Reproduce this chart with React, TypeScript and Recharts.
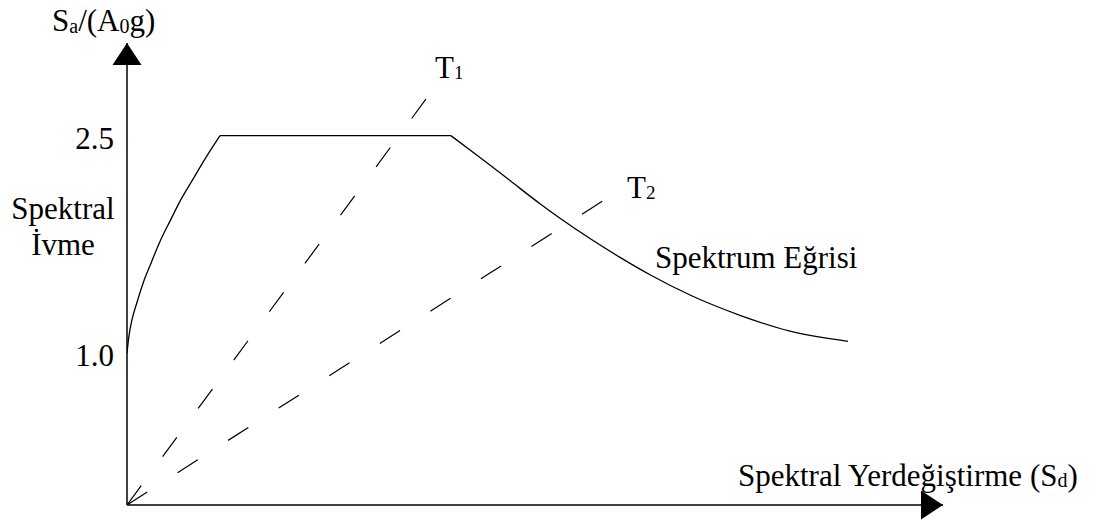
import React from 'react';
import { LineChart, Line, XAxis, YAxis, ReferenceDot } from 'recharts';

const W = 1113;
const H = 520;
const FONT = '"Liberation Serif", "Times New Roman", serif';

// Design spectrum in Sa–Sd form: rising branch, constant plateau, decaying branch
const risingSd = [0, 0.02, 0.05, 0.1, 0.16, 0.24, 0.33, 0.43, 0.54, 0.66, 0.79, 0.93];
const risingSa = [1.0, 1.12, 1.23, 1.35, 1.48, 1.62, 1.77, 1.91, 2.06, 2.2, 2.35, 2.5];
const plateauSd = [0.93, 3.24];
const plateauSa = [2.5, 2.5];
const decaySd = [3.24, 3.53, 3.83, 4.13, 4.33, 4.63, 4.93, 5.23, 5.63, 6.13, 6.63, 7.21];
const decaySa = [2.5, 2.35, 2.19, 2.03, 1.93, 1.79, 1.66, 1.54, 1.4, 1.26, 1.15, 1.08];

// Constant-period radial lines T1, T2 (from the origin)
const periodEndSd = [3.04, 4.94];
const periodEndSa = [2.8, 2.13];

const yTicks = [1.0, 2.5];

const X_MIN = 0;
const X_MAX = 8.16;
const Y_MIN = -0.05;
const Y_MAX = 3.14;

const toPoints = (xs: number[], ys: number[]) => xs.map((x, i) => ({ x, y: ys[i] }));

const rising = toPoints(risingSd, risingSa);
const plateau = toPoints(plateauSd, plateauSa);
const decay = toPoints(decaySd, decaySa);
const periodLines = periodEndSd.map((sd, i) => [
  { x: X_MIN, y: Y_MIN },
  { x: sd, y: periodEndSa[i] },
]);

const UpArrow = (props: any) => {
  const { cx, cy } = props;
  return <polygon points={`${cx},${cy} ${cx - 14.5},${cy + 22} ${cx + 14.5},${cy + 22}`} fill="#000" />;
};

const RightArrow = (props: any) => {
  const { cx, cy } = props;
  return <polygon points={`${cx},${cy} ${cx - 22},${cy - 14.5} ${cx - 22},${cy + 14.5}`} fill="#000" />;
};

const YTick = (props: any) => {
  const { x, y, payload } = props;
  return (
    <text x={x} y={y + 3} textAnchor="end" dominantBaseline="central" fontFamily={FONT} fontSize={31} fill="#000">
      {Number(payload.value).toFixed(1)}
    </text>
  );
};

export default function App() {
  const lineProps = {
    dataKey: 'y',
    stroke: '#000',
    dot: false,
    activeDot: false,
    isAnimationActive: false,
  } as const;

  return (
    <div style={{ position: 'absolute', left: 0, top: 0, width: W, height: H, background: '#fff' }}>
      <LineChart width={W} height={H} margin={{ top: 43, right: W - 943, bottom: 0, left: 0 }}>
        <XAxis
          type="number"
          dataKey="x"
          domain={[X_MIN, X_MAX]}
          allowDataOverflow
          height={15}
          tick={false}
          tickLine={false}
          axisLine={{ stroke: '#000', strokeWidth: 1.5 }}
        />
        <YAxis
          type="number"
          dataKey="y"
          domain={[Y_MIN, Y_MAX]}
          allowDataOverflow
          width={127}
          ticks={yTicks}
          tickSize={0}
          tickMargin={13}
          tickLine={false}
          tick={<YTick />}
          axisLine={{ stroke: '#000', strokeWidth: 1.5 }}
        />
        <Line {...lineProps} data={rising} type="monotone" strokeWidth={1.3} />
        <Line {...lineProps} data={plateau} type="linear" strokeWidth={1.3} />
        <Line {...lineProps} data={decay} type="monotone" strokeWidth={1.3} />
        {periodLines.map((d, i) => (
          <Line key={i} {...lineProps} data={d} type="linear" strokeWidth={1.2} strokeDasharray="24 36" />
        ))}
        <ReferenceDot x={X_MIN} y={Y_MAX} r={0} ifOverflow="visible" shape={UpArrow} />
        <ReferenceDot x={X_MAX} y={Y_MIN} r={0} ifOverflow="visible" shape={RightArrow} />
      </LineChart>
      <svg
        width={W}
        height={H}
        style={{ position: 'absolute', left: 0, top: 0, pointerEvents: 'none' }}
        fontFamily={FONT}
        fontSize={31}
        fill="#000"
      >
        <text x={52} y={31}>
          S<tspan fontSize={20} dy={2}>a</tspan>
          <tspan dy={-2}>/(A</tspan>
          <tspan fontSize={20} dy={2}>0</tspan>
          <tspan dy={-2}>g)</tspan>
        </text>
        <text x={63} y={219} textAnchor="middle">Spektral</text>
        <text x={63} y={255} textAnchor="middle">İvme</text>
        <text x={435} y={78}>
          T<tspan fontSize={19} dy={1}>1</tspan>
        </text>
        <text x={627} y={198}>
          T<tspan fontSize={19} dy={1}>2</tspan>
        </text>
        <text x={655} y={268}>Spektrum Eğrisi</text>
        <text x={738} y={486}>
          Spektral Yerdeğiştirme (S<tspan fontSize={20} dy={1}>d</tspan>
          <tspan dy={-1}>)</tspan>
        </text>
      </svg>
    </div>
  );
}
